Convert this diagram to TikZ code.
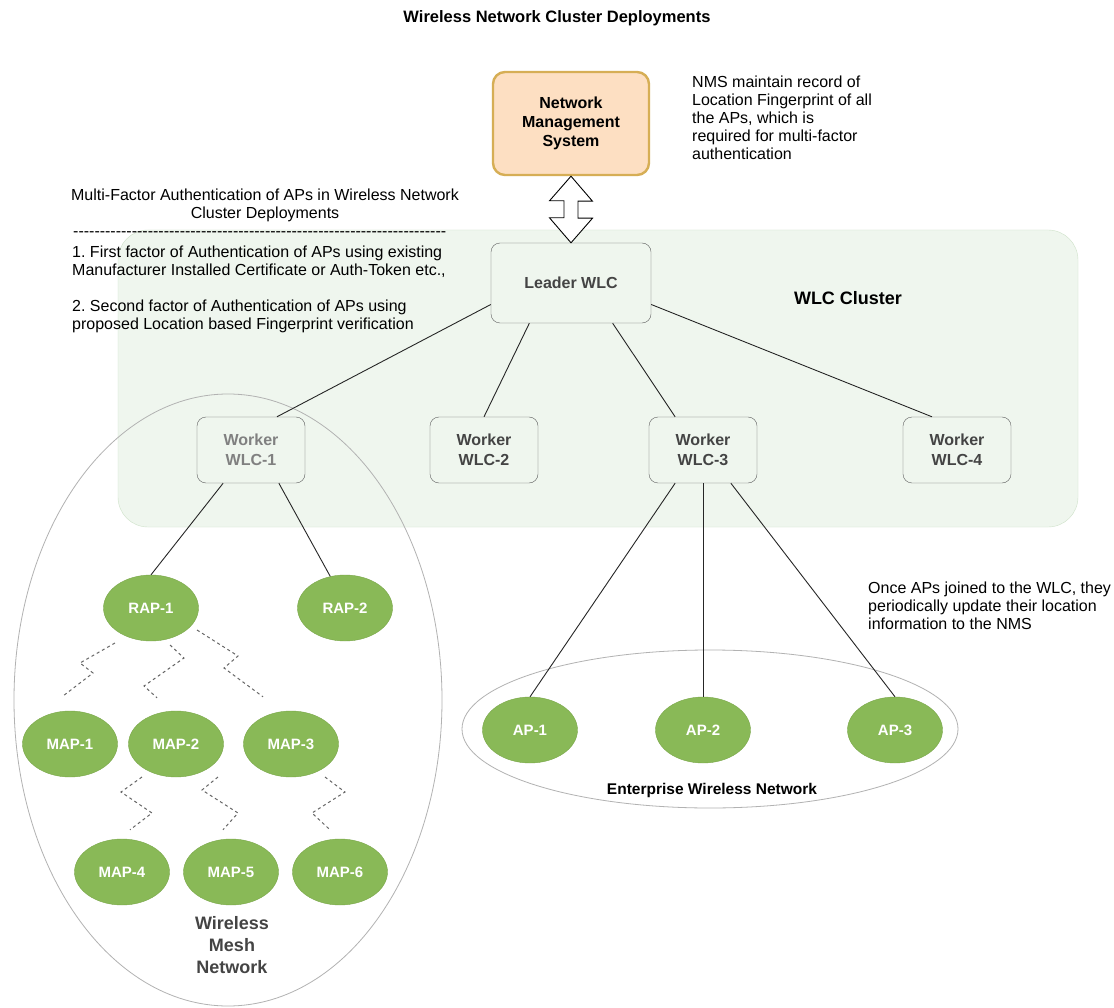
\documentclass[tikz,border=0pt]{standalone}
\usepackage{fontspec}
\setmainfont{Liberation Sans}
\usepackage{xcolor}
\usepackage{tikz}
\usetikzlibrary{calc}
\usetikzlibrary{positioning}
\usetikzlibrary{shapes.geometric}
\definecolor{clusterfill}{HTML}{EFF6EE}
\definecolor{clusterline}{HTML}{CFE2CA}
\definecolor{nmsfill}{HTML}{FDDFC2}
\definecolor{nmsline}{HTML}{D6AE55}
\definecolor{apfill}{HTML}{89B957}
\definecolor{apline}{HTML}{78A648}
\definecolor{boxline}{HTML}{5E5E5E}
\definecolor{boxtext}{HTML}{444444}
\frenchspacing

\begin{document}
\begin{tikzpicture}[x=1pt, y=-1pt,
	txt/.style={font=\fontsize{16}{18}\selectfont, inner sep=0pt},
	wlc/.style={draw=boxline, rounded corners=9, minimum width=108, minimum height=66, align=center, text=boxtext, font=\bfseries\fontsize{16}{20}\selectfont},
	ap/.style={ellipse, fill=apfill, draw=apline, minimum width=95, minimum height=66, inner sep=0pt, text=white, font=\bfseries\fontsize{15}{18}\selectfont},
	wifi/.style={draw=gray!80!black, dash pattern=on 3pt off 3pt, line width=1pt},
	link/.style={draw=black!85, line width=0.9pt},
	zone/.style={draw=gray!60, line width=0.8pt}]
	\fill[white] (0, 0) rectangle (1114, 1008);
	\useasboundingbox (0, 0) rectangle (1114, 1008);
	\node[txt, font=\bfseries\fontsize{16.5}{18}\selectfont] (title) at (557, 18) {Wireless Network Cluster Deployments};
	\filldraw[fill=clusterfill, draw=clusterline, rounded corners=30] (118, 230) rectangle (1078, 527);
	\node[txt, font=\bfseries\fontsize{18}{20}\selectfont] (clusterlabel) at (848, 298) {WLC Cluster};
	\draw[zone] (228, 700) ellipse [x radius=214, y radius=306];
	\draw[zone] (710, 729) ellipse [x radius=248, y radius=79];
	\node[draw=nmsline, fill=nmsfill, line width=2.4pt, rounded corners=12, minimum width=156, minimum height=103, align=center, font=\bfseries\fontsize{16}{19}\selectfont] (nms) at (571, 123.5) {Network\\Management\\System};
	\node[txt, align=left, anchor=north west] (nmsnote) at (692, 76) {NMS maintain record of\\Location Fingerprint of all\\the APs, which is\\required for multi-factor\\authentication};
	\node[txt, align=center] (mfahead) at (265, 205.5) {Multi-Factor Authentication of APs in Wireless Network\\Cluster Deployments};
	\node[txt, anchor=west] (mfadash) at (73, 234) {\foreach \i in {1,...,70}{-}};
	\node[txt, align=left, anchor=north west] (mfalist) at (72, 246) {1. First factor of Authentication of APs using existing\\Manufacturer Installed Certificate or Auth-Token etc.,\\[18pt]2. Second factor of Authentication of APs using\\proposed Location based Fingerprint verification};
	\node[wlc, minimum width=160, minimum height=80] (leader) at (571, 283) {Leader WLC};
	\draw[fill=white, line width=0.9pt] (nms.south) -- ++(21.5, 25) -- ++(-14.5, 0) -- ++(0, 17) -- ++(14.5, 0) -- (leader.north) -- ++(-21.5, -25) -- ++(14.5, 0) -- ++(0, -17) -- ++(-14.5, 0) -- cycle;
	\node[wlc, text=gray] (wlc1) at (251, 450) {Worker\\WLC-1};
	\node[wlc] (wlc2) at (484, 450) {Worker\\WLC-2};
	\node[wlc] (wlc3) at (703, 450) {Worker\\WLC-3};
	\node[wlc] (wlc4) at (957, 450) {Worker\\WLC-4};
	\node[ap] (rap1) at (151, 608) {RAP-1};
	\node[ap] (rap2) at (345, 608) {RAP-2};
	\node[ap] (map1) at (70, 744) {MAP-1};
	\node[ap] (map2) at (176, 744) {MAP-2};
	\node[ap] (map3) at (291, 744) {MAP-3};
	\node[ap] (map4) at (122, 872) {MAP-4};
	\node[ap] (map5) at (231, 872) {MAP-5};
	\node[ap] (map6) at (340, 872) {MAP-6};
	\node[ap] (ap1) at (530, 730) {AP-1};
	\node[ap] (ap2) at (703, 730) {AP-2};
	\node[ap] (ap3) at (895, 730) {AP-3};
	\node[txt, align=center, text=boxtext, font=\bfseries\fontsize{18}{22}\selectfont] (meshlabel) at (232, 945) {Wireless\\Mesh\\Network};
	\node[txt, font=\bfseries\fontsize{15.5}{18}\selectfont] (entlabel) at (712, 790) {Enterprise Wireless Network};
	\node[txt, align=left, anchor=north west] (joinnote) at (868, 582) {Once APs joined to the WLC, they\\periodically update their location\\information to the NMS};
	\draw[link] (leader.-165) -- (wlc1.52);
	\draw[link] (leader.-136) -- (wlc2.north);
	\draw[link] (leader.-44) -- (wlc3.130);
	\draw[link] (leader.-15) -- (wlc4.127);
	\draw[link] (wlc1.-130) -- (rap1.north);
	\draw[link] (wlc1.-50) -- (rap2.115);
	\draw[link] (wlc3.-130) -- (ap1.north);
	\draw[link] (wlc3.south) -- (ap2.north);
	\draw[link] (wlc3.-50) -- (ap3.north);
	\draw[wifi] ($(rap1)+(-36, 35)$) -- ++(-35, 20) -- ++(13, 10) -- ($(map1.north)+(-8, -14)$);
	\draw[wifi] ($(rap1)+(19, 37)$) -- ++(14, 13) -- ++(-40, 28) -- ($(map2.north)+(-19, -13)$);
	\draw[wifi] ($(rap1)+(46, 22)$) -- ++(41, 26) -- ++(-14, 12) -- ($(map3.north)+(-28, -14)$);
	\draw[wifi] ($(map2)+(-34, 33)$) -- ++(-21, 15) -- ++(31, 21) -- ($(map4.north)+(8, -9)$);
	\draw[wifi] ($(map2)+(42, 33)$) -- ++(-16, 13) -- ++(36, 23) -- ($(map5.north)+(-8, -9)$);
	\draw[wifi] ($(map3)+(34, 33)$) -- ++(20, 15) -- ++(-33, 21) -- ($(map6.north)+(-10, -9)$);
\end{tikzpicture}
\end{document}
